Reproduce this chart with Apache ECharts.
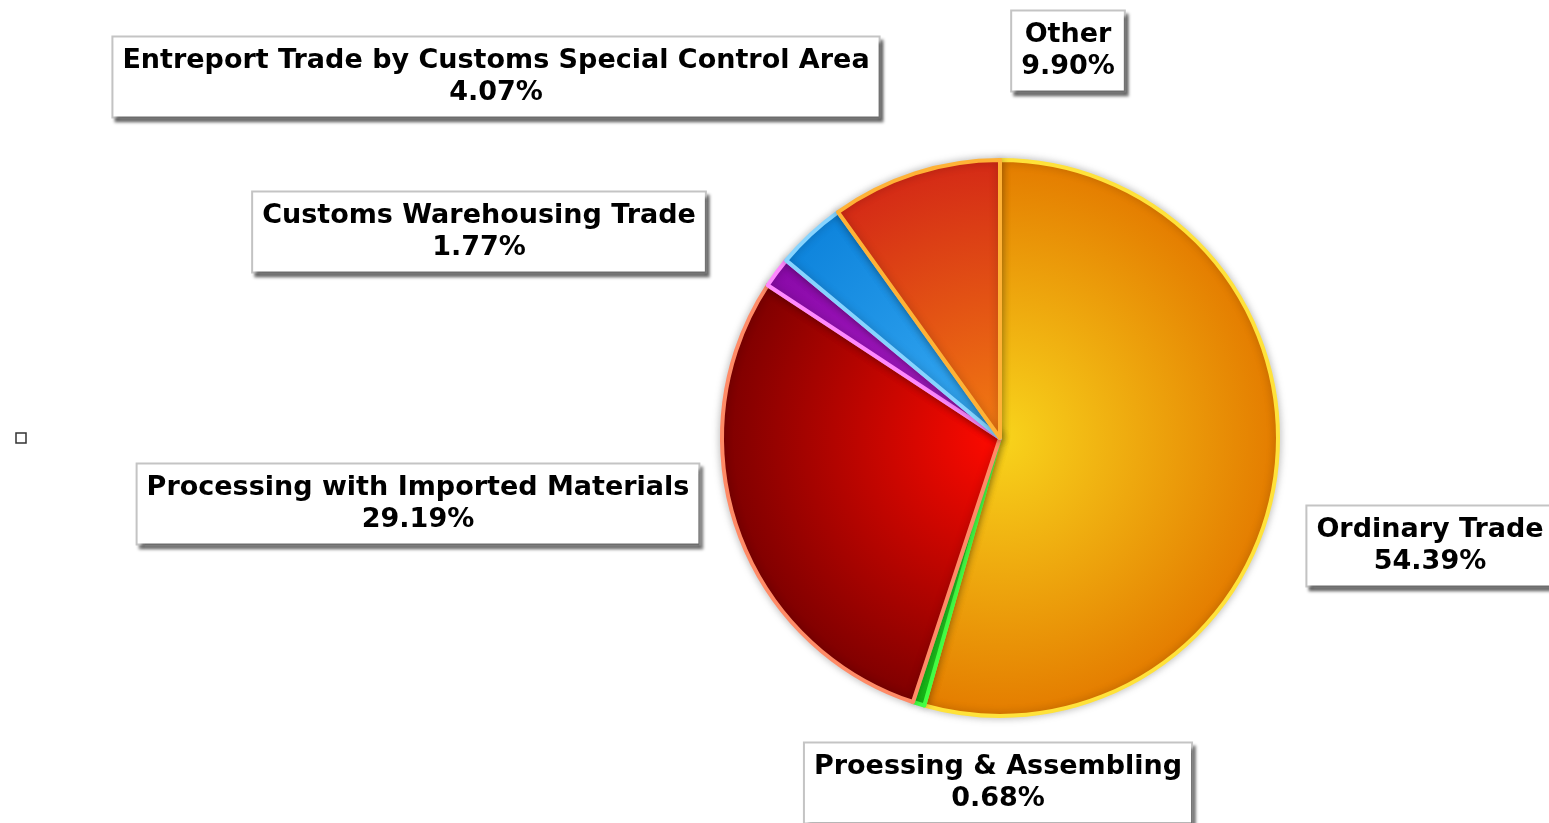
<!DOCTYPE html>
<html>
<head>
<meta charset="utf-8">
<script src="https://cdn.jsdelivr.net/npm/echarts@6/dist/echarts.min.js"></script>
<style>
  html, body { margin: 0; padding: 0; background: #fff; }
  #chart { width: 1549px; height: 823px; }
</style>
</head>
<body>
<div id="chart"></div>
<script>
  // trade categories, clockwise from 12 o'clock
  var categories = ['Ordinary Trade', 'Proessing & Assembling', 'Processing with Imported Materials',
    'Customs Warehousing Trade', 'Entreport Trade by Customs Special Control Area', 'Other'];
  var shares = [54.39, 0.68, 29.19, 1.77, 4.07, 9.90];

  // inner / outer gradient colour and slice edge
  var innerColors = ['#f8d41c', '#3cf03c', '#ff0a00', '#b020d0', '#3aacf4', '#f27c12'];
  var outerColors = ['#e47c00', '#18c818', '#7e0000', '#8a0aa8', '#0e84dc', '#d42a16'];
  var edgeColors = ['#ffe23a', '#44ff44', '#ff8a66', '#ff88ff', '#86d4ff', '#ffb236'];

  // where each label box sits (centre, px)
  var labelSpots = [[1430, 546], [998, 783], [418, 504], [479, 232], [496, 77], [1068, 51]];

  var cx = 1000, cy = 438, r = 278;

  var pieData = categories.map(function (name, i) {
    return {
      name: name,
      value: shares[i],
      itemStyle: {
        color: {
          type: 'radial', x: cx, y: cy, r: r, global: true,
          colorStops: [{ offset: 0, color: innerColors[i] }, { offset: 1, color: outerColors[i] }]
        },
        borderColor: edgeColors[i]
      }
    };
  });

  var chart = echarts.init(document.getElementById('chart'));
  chart.setOption({
    animation: false,
    graphic: [{
      type: 'rect',
      shape: { x: 16, y: 433, width: 10, height: 10 },
      style: { fill: '#fff', stroke: '#333', lineWidth: 1.5 }
    }],
    series: [{
      type: 'pie',
      center: [cx, cy],
      radius: r,
      startAngle: 90,
      clockwise: true,
      data: pieData,
      itemStyle: {
        borderWidth: 4,
        shadowBlur: 8,
        shadowColor: 'rgba(0,0,0,0.25)'
      },
      labelLine: { show: false },
      label: {
        show: true,
        position: 'inside',
        formatter: function (p) { return p.name + '\n' + p.value.toFixed(2) + '%'; },
        fontFamily: 'DejaVu Sans',
        fontWeight: 'bold',
        fontSize: 27,
        lineHeight: 32,
        color: '#000',
        align: 'center',
        backgroundColor: '#fff',
        borderColor: '#c4c4c4',
        borderWidth: 2,
        padding: [8, 9, 7, 9],
        shadowColor: 'rgba(0,0,0,0.45)',
        shadowBlur: 3,
        shadowOffsetX: 3,
        shadowOffsetY: 4
      },
      labelLayout: function (params) {
        var s = labelSpots[params.dataIndex];
        return { x: s[0], y: s[1], align: 'center', verticalAlign: 'middle' };
      },
      emphasis: { disabled: true }
    }]
  });
</script>
</body>
</html>
